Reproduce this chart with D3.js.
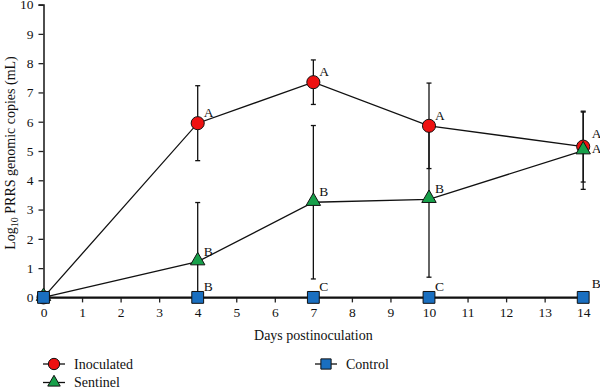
<!DOCTYPE html>
<html>
<head>
<meta charset="utf-8">
<script src="https://cdn.jsdelivr.net/npm/d3@7"></script>
<style>
  html, body { margin: 0; padding: 0; background: #fff; }
  svg { display: block; }
  svg text { font-family: 'Liberation Serif', 'DejaVu Serif', serif !important; fill: #111; }
</style>
</head>
<body>
<svg id="chart" width="600" height="388" font-family="'Liberation Serif', serif"></svg>
<script>
// ---- data ----
const days = [0, 4, 7, 10, 14];
const xTicks = [0,1,2,3,4,5,6,7,8,9,10,11,12,13,14];
const yTicks = [0,1,2,3,4,5,6,7,8,9,10];

const inoculated = [0, 5.95, 7.35, 5.86, 5.15];
const inoculatedErr = [0, 1.28, 0.76, 1.46, 1.21];
const inoculatedLabels = ["", "A", "A", "A", "A"];

const sentinel = [0, 1.22, 3.25, 3.35, 5.01];
const sentinelErr = [0, 2.02, 2.62, 2.66, 1.32];
const sentinelLabels = ["", "B", "B", "B", "A"];

const control = [0, 0, 0, 0, 0];
const controlErr = [0, 0, 0, 0, 0];
const controlLabels = ["", "B", "C", "C", "B"];

const seriesNames = ["Inoculated", "Sentinel", "Control"];
const seriesColors = ["#ee1111", "#17a04a", "#1a6fc0"];
const xTitle = "Days postinoculation";

// ---- layout ----
const FONT = "'Liberation Serif', 'DejaVu Serif', serif";
const svg = d3.select("#chart");
const x = d3.scaleLinear().domain([0, 14]).range([43.5, 583.2]);
const y = d3.scaleLinear().domain([0, 10]).range([297.4, 4.6]);

// axes
const xAxis = svg.append("g").attr("transform", `translate(0,${y(0)})`)
  .call(d3.axisBottom(x).tickValues(xTicks).tickSize(5).tickPadding(5).tickFormat(d3.format("d")));
const yAxis = svg.append("g").attr("transform", `translate(${x(0)},0)`)
  .call(d3.axisLeft(y).tickValues(yTicks).tickSize(5).tickPadding(5).tickFormat(d3.format("d")));
[xAxis, yAxis].forEach(g => {
  g.attr("font-family", FONT).attr("font-size", 13.5);
  g.select(".domain").attr("stroke", "#222").attr("stroke-width", 1.6);
  g.selectAll(".tick line").attr("stroke", "#222").attr("stroke-width", 1.3);
  g.selectAll(".tick text").attr("font-family", FONT).attr("font-size", 13.5).attr("fill", "#111");
});

// titles
svg.append("text").attr("x", x(7)).attr("y", 340).attr("text-anchor", "middle")
  .attr("font-family", FONT).attr("font-size", 14).text(xTitle);
const yt = svg.append("text").attr("transform", `translate(15,153) rotate(-90)`)
  .attr("text-anchor", "middle").attr("font-family", FONT).attr("font-size", 14);
yt.append("tspan").text("Log");
yt.append("tspan").attr("dy", 3).attr("font-size", 10).text("10");
yt.append("tspan").attr("dy", -3).text(" PRRS genomic copies (mL)");

// series
const series = [
  { vals: inoculated, err: inoculatedErr, labels: inoculatedLabels, type: d3.symbolCircle, size: 135 },
  { vals: sentinel, err: sentinelErr, labels: sentinelLabels, type: d3.symbolTriangle, size: 90 },
  { vals: control, err: controlErr, labels: controlLabels, type: d3.symbolSquare, size: 140 }
];

const line = d3.line().x((d, i) => x(days[i])).y(d => y(d));
const gLines = svg.append("g");
const gErr = svg.append("g");
const gMarks = svg.append("g");
const gLab = svg.append("g");

series.forEach((s, si) => {
  gLines.append("path").attr("d", line(s.vals)).attr("fill", "none")
    .attr("stroke", "#111").attr("stroke-width", si === 2 ? 1.8 : 1.3);
  s.vals.forEach((v, i) => {
    if (!s.err[i]) return;
    const lo = Math.max(0, v - s.err[i]), hi = v + s.err[i];
    const cx = x(days[i]);
    gErr.append("line").attr("x1", cx).attr("x2", cx).attr("y1", y(lo)).attr("y2", y(hi))
      .attr("stroke", "#111").attr("stroke-width", 1.3);
    [lo, hi].forEach(e => {
      if (e <= 0) return;
      gErr.append("line").attr("x1", cx - 2.5).attr("x2", cx + 2.5).attr("y1", y(e)).attr("y2", y(e))
        .attr("stroke", "#111").attr("stroke-width", 1.3);
    });
  });
});

const placed = [];
series.forEach((s, si) => {
  const sym = d3.symbol().type(s.type).size(s.size);
  s.vals.forEach((v, i) => {
    const cx = x(days[i]), cy = y(v);
    const dy = s.type === d3.symbolTriangle ? -1 : 0;
    gMarks.append("path").attr("d", sym()).attr("transform", `translate(${cx},${cy + dy})`)
      .attr("fill", seriesColors[si]).attr("stroke", "#111").attr("stroke-width", 1);
    const lab = s.labels[i];
    if (lab) {
      let lx = cx + 6, ly = cy - 6;
      if (i === days.length - 1) { lx = cx + 8.5; ly = cy - 9; }
      placed.forEach(p => {
        if (Math.abs(p.x - lx) < 5 && Math.abs(p.y - ly) < 15) ly = p.y + 15;
      });
      placed.push({ x: lx, y: ly });
      gLab.append("text").attr("x", lx).attr("y", ly)
        .attr("font-family", FONT).attr("font-size", 13.5).text(lab);
    }
  });
});

// legend
const legendItems = [
  { name: seriesNames[0], x0: 43, y0: 364, si: 0 },
  { name: seriesNames[1], x0: 43, y0: 382.5, si: 1 },
  { name: seriesNames[2], x0: 315, y0: 364, si: 2 }
];
const lg = svg.append("g");
legendItems.forEach(it => {
  const s = series[it.si];
  lg.append("line").attr("x1", it.x0).attr("x2", it.x0 + 22).attr("y1", it.y0).attr("y2", it.y0)
    .attr("stroke", "#111").attr("stroke-width", 1.3);
  lg.append("path").attr("d", d3.symbol().type(s.type).size(s.size * 0.75)())
    .attr("transform", `translate(${it.x0 + 11},${it.y0})`)
    .attr("fill", seriesColors[it.si]).attr("stroke", "#111").attr("stroke-width", 1);
  lg.append("text").attr("x", it.x0 + 31).attr("y", it.y0 + 4.5)
    .attr("font-family", FONT).attr("font-size", 14).text(it.name);
});
</script>
</body>
</html>
